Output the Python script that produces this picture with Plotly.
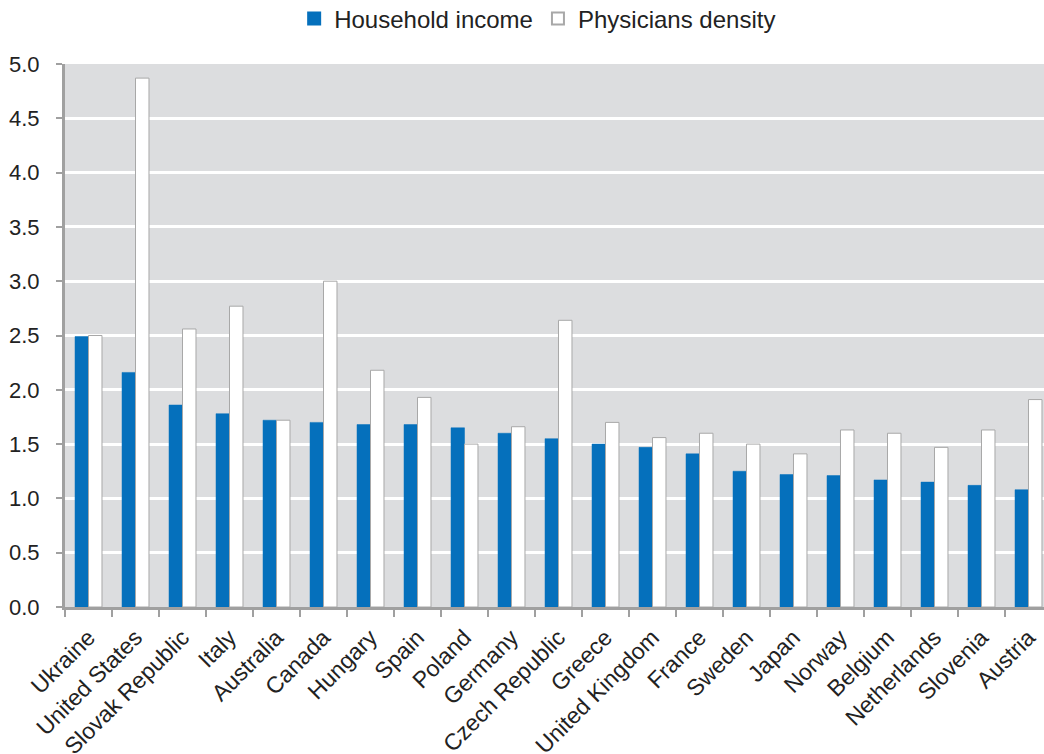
import plotly.graph_objects as go

countries = ["Ukraine", "United States", "Slovak Republic", "Italy", "Australia", "Canada",
             "Hungary", "Spain", "Poland", "Germany", "Czech Republic", "Greece",
             "United Kingdom", "France", "Sweden", "Japan", "Norway", "Belgium",
             "Netherlands", "Slovenia", "Austria"]
household_income = [2.49, 2.16, 1.86, 1.78, 1.72, 1.70, 1.68, 1.68, 1.65, 1.60, 1.55, 1.50,
                    1.47, 1.41, 1.25, 1.22, 1.21, 1.17, 1.15, 1.12, 1.08]
physicians_density = [2.50, 4.87, 2.56, 2.77, 1.72, 3.00, 2.18, 1.93, 1.50, 1.66, 2.64, 1.70,
                      1.56, 1.60, 1.50, 1.41, 1.63, 1.60, 1.47, 1.63, 1.91]
y_ticks = [0.0, 0.5, 1.0, 1.5, 2.0, 2.5, 3.0, 3.5, 4.0, 4.5, 5.0]

font_family = "Liberation Sans, Arial, sans-serif"

fig = go.Figure()
fig.add_trace(go.Bar(
    x=countries, y=household_income, name="Household income",
    marker=dict(color="#0570BC", line=dict(color="#0570BC", width=0.5)),
))
fig.add_trace(go.Bar(
    x=countries, y=physicians_density, name="Physicians density",
    marker=dict(color="#FFFFFF", line=dict(color="#A8A8A8", width=1)),
))

fig.update_layout(
    width=1044, height=754,
    autosize=False,
    margin=dict(l=65, r=0, t=64, b=147),
    paper_bgcolor="#FFFFFF",
    plot_bgcolor="#DCDDDF",
    barmode="group",
    bargap=0.426,
    bargroupgap=0,
    font=dict(family=font_family, size=21, color="#222222"),
    showlegend=True,
    legend=dict(
        orientation="h",
        xref="container", yref="container",
        x=0.515, xanchor="center",
        y=1 - 19 / 754, yanchor="middle",
        font=dict(size=24, color="#222222"),
        bgcolor="rgba(0,0,0,0)",
        itemsizing="constant",
    ),
    xaxis=dict(
        type="category",
        range=[-0.5, 20.33],
        tickangle=-45,
        automargin=False,
        showline=True, linecolor="#A0A0A0", linewidth=3,
        ticks="outside", tickson="boundaries", ticklen=7, tickwidth=2, tickcolor="#A0A0A0",
        showgrid=False,
        ticklabelstandoff=5,
        tickfont=dict(size=23, color="#222222"),
    ),
    yaxis=dict(
        range=[0, 5],
        tickvals=y_ticks,
        ticktext=[f"{v:.1f}" for v in y_ticks],
        automargin=False,
        showline=True, linecolor="#A0A0A0", linewidth=3,
        ticks="outside", ticklen=6, tickwidth=2, tickcolor="#A0A0A0",
        showgrid=True, gridcolor="#FFFFFF", gridwidth=2.5,
        zeroline=False,
        ticklabelstandoff=12,
        tickfont=dict(size=22, color="#222222"),
    ),
)

fig.write_html("out.html")
